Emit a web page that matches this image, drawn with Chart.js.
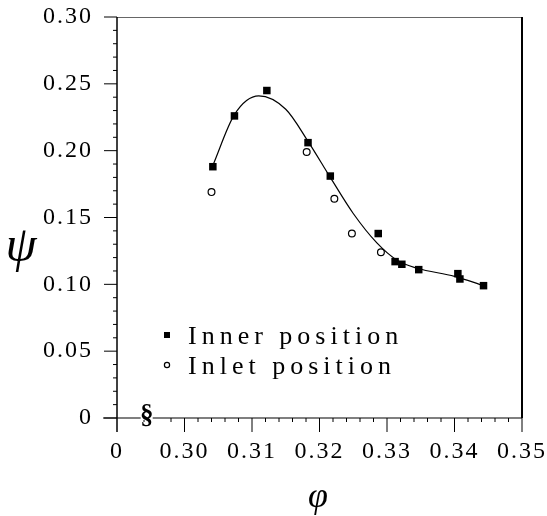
<!DOCTYPE html>
<html>
<head>
<meta charset="utf-8">
<script src="https://cdn.jsdelivr.net/npm/chart.js@4/dist/chart.umd.min.js"></script>
<style>
html,body{margin:0;padding:0;background:#fff;}
#wrap{width:547px;height:516px;position:relative;}
</style>
</head>
<body>
<div id="wrap"><canvas id="c" width="547" height="516"></canvas></div>
<script>
// ---- data ----
const innerX = [0.3042, 0.3074, 0.3122, 0.3183, 0.3216, 0.3287, 0.3312, 0.3322, 0.3347, 0.3405, 0.3408, 0.3443];
const innerY = [0.188, 0.226, 0.245, 0.206, 0.181, 0.138, 0.117, 0.115, 0.111, 0.108, 0.104, 0.099];
const inletX = [0.3040, 0.3181, 0.3222, 0.3248, 0.3291];
const inletY = [0.169, 0.199, 0.164, 0.138, 0.124];
const curveX = [0.3042, 0.3074, 0.3110, 0.3150, 0.3183, 0.3216, 0.3250, 0.3285, 0.3315, 0.3345, 0.3400, 0.3443];
const curveY = [0.189, 0.227, 0.241, 0.231, 0.207, 0.180, 0.153, 0.131, 0.118, 0.112, 0.106, 0.099];
const xTickValues = [0.29, 0.30, 0.31, 0.32, 0.33, 0.34, 0.35];
const xTickLabels = ['0', '0.30', '0.31', '0.32', '0.33', '0.34', '0.35'];
const yTickLabels = ['0', '0.05', '0.10', '0.15', '0.20', '0.25', '0.30'];
const legendLabels = ['Inner position', 'Inlet position'];
const xTitle = 'φ';
const yTitle = 'ψ';

const pts = (xs, ys) => xs.map((x, i) => ({x: x, y: ys[i]}));

const FONT = "'Liberation Serif', 'Times New Roman', serif";
Chart.defaults.font.family = FONT;
Chart.defaults.color = '#000';

const spacingPlugin = {
  id: 'spacing',
  beforeDraw(chart) { chart.ctx.letterSpacing = '2px'; }
};

const noPad = (s) => { s.paddingTop = 0; s.paddingBottom = 0; s.paddingLeft = 0; s.paddingRight = 0; };

const decoPlugin = {
  id: 'deco',
  afterDraw(chart) {
    const ctx = chart.ctx;
    const xs = chart.scales.x, ys = chart.scales.y;
    const a = chart.chartArea;
    ctx.save();
    // box
    ctx.lineWidth = 1;
    ctx.strokeStyle = '#666';
    ctx.beginPath(); ctx.moveTo(a.left, a.top + 0.5); ctx.lineTo(a.right, a.top + 0.5); ctx.stroke();
    ctx.strokeStyle = '#000';
    ctx.lineWidth = 2;
    ctx.beginPath(); ctx.moveTo(a.right, a.top); ctx.lineTo(a.right, a.bottom); ctx.stroke();
    ctx.lineWidth = 1.5;
    ctx.beginPath(); ctx.moveTo(a.left, a.top); ctx.lineTo(a.left, a.bottom + 14); ctx.stroke();
    ctx.lineWidth = 1.2;
    ctx.beginPath(); ctx.moveTo(a.left - 14, a.bottom); ctx.lineTo(a.right, a.bottom); ctx.stroke();
    // y ticks
    ctx.lineWidth = 1;
    for (let i = 0; i <= 30; i++) {
      const py = ys.getPixelForValue(i / 100);
      const len = (i % 5 === 0) ? 13 : 4;
      ctx.beginPath(); ctx.moveTo(a.left - len, py); ctx.lineTo(a.left, py); ctx.stroke();
    }
    // x ticks
    for (let i = 1; i <= 30; i++) {
      const v = 0.29 + i * 0.002;
      if (v < 0.2975 && i !== 2) continue;
      const px = xs.getPixelForValue(v);
      const len = (i % 5 === 0) ? 14 : 4;
      ctx.beginPath(); ctx.moveTo(px, a.bottom); ctx.lineTo(px, a.bottom + len); ctx.stroke();
    }
    // axis break symbol
    ctx.letterSpacing = '0px';
    const bx = xs.getPixelForValue(0.2944);
    ctx.fillStyle = '#fff';
    ctx.fillRect(bx - 6, a.bottom - 2, 12, 4);
    ctx.fillStyle = '#000';
    ctx.font = "bold 27px " + FONT;
    ctx.textAlign = 'center';
    ctx.textBaseline = 'middle';
    ctx.fillText('§', bx, a.bottom - 2);
    // axis titles
    ctx.font = "italic 50px " + FONT;
    ctx.fillText(yTitle, 21, 248);
    ctx.font = "italic 36px " + FONT;
    ctx.fillText(xTitle, 318, 498);
    // legend
    ctx.letterSpacing = '5px';
    ctx.font = "26px " + FONT;
    ctx.textAlign = 'left';
    ctx.textBaseline = 'alphabetic';
    ctx.fillRect(164, 332, 6, 6);
    ctx.fillText(legendLabels[0], 188, 344);
    ctx.lineWidth = 1.2;
    ctx.beginPath(); ctx.arc(167, 365, 2.6, 0, Math.PI * 2); ctx.stroke();
    ctx.fillText(legendLabels[1], 188, 374);
    ctx.restore();
  }
};

new Chart(document.getElementById('c'), {
  type: 'scatter',
  data: {
    datasets: [
      {
        label: 'fit', type: 'line', data: pts(curveX, curveY),
        borderColor: '#000', borderWidth: 1.2, pointRadius: 0, fill: false,
        cubicInterpolationMode: 'monotone'
      },
      {
        label: legendLabels[0], data: pts(innerX, innerY),
        pointStyle: 'rect', pointRadius: 5.3, backgroundColor: '#000', borderColor: '#000', borderWidth: 0
      },
      {
        label: legendLabels[1], data: pts(inletX, inletY),
        pointStyle: 'circle', pointRadius: 3.4, backgroundColor: '#fff', borderColor: '#000', borderWidth: 1.2
      }
    ]
  },
  options: {
    responsive: false,
    animation: false,
    layout: { padding: { top: 17, right: 25, left: 0, bottom: 0 } },
    plugins: { legend: { display: false }, tooltip: { enabled: false } },
    scales: {
      x: {
        type: 'linear', min: 0.29, max: 0.35,
        afterFit(s) { s.height = 98; noPad(s); },
        afterBuildTicks(s) { s.ticks = xTickValues.map(v => ({value: v})); },
        grid: { display: false, drawTicks: false },
        border: { display: false },
        ticks: {
          padding: 19, maxRotation: 0, autoSkip: false,
          font: { size: 24 },
          callback(v, i) { return xTickLabels[i]; }
        }
      },
      y: {
        type: 'linear', min: 0, max: 0.30,
        afterFit(s) { s.width = 117; noPad(s); },
        afterBuildTicks(s) { s.ticks = yTickLabels.map(l => ({value: parseFloat(l)})); },
        grid: { display: false, drawTicks: false },
        border: { display: false },
        ticks: {
          padding: 24, autoSkip: false,
          font: { size: 24 },
          callback(v, i) { return yTickLabels[i]; }
        }
      }
    }
  },
  plugins: [spacingPlugin, decoPlugin]
});
</script>
</body>
</html>
